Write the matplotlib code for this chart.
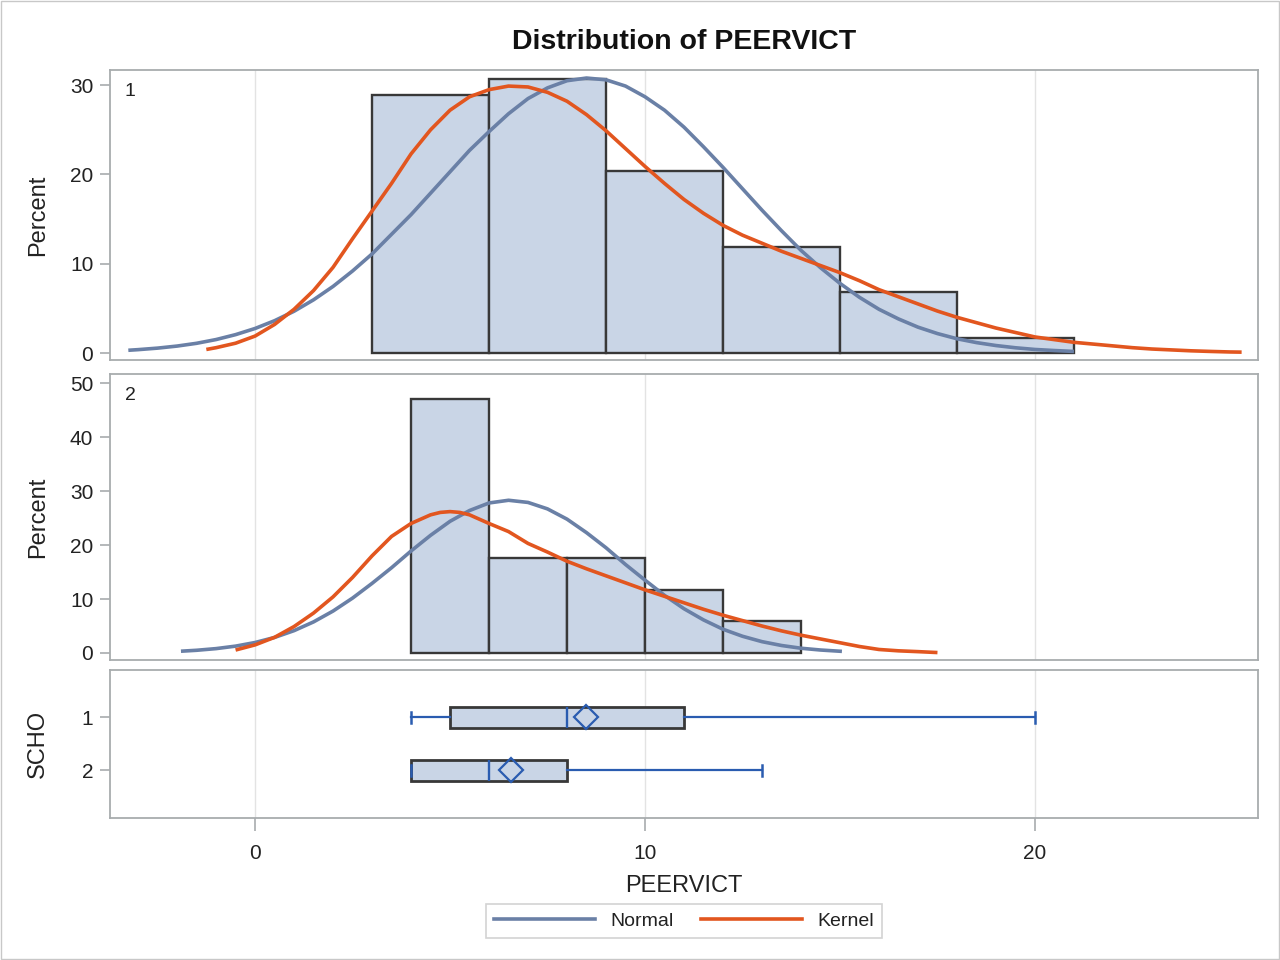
import numpy as np
import matplotlib
matplotlib.use('Agg')
import matplotlib.pyplot as plt
from matplotlib.patches import Rectangle
from matplotlib.lines import Line2D

plt.rcParams['font.family'] = ['Liberation Sans', 'DejaVu Sans']

# Histogramas (porcentaje por clase)
bins1 = [3, 6, 9, 12, 15, 18, 21]
pct1 = [28.9, 30.7, 20.4, 11.9, 6.8, 1.7]
bins2 = [4, 6, 8, 10, 12, 14]
pct2 = [47.0, 17.6, 17.6, 11.7, 5.9]

# Curva normal grupo 1
norm1_x = [-3.25, -3, -2.5, -2, -1.5, -1, -0.5, 0, 0.5, 1, 1.5, 2, 2.5, 3, 3.5, 4, 4.5,
           5, 5.5, 6, 6.5, 7, 7.5, 8, 8.5, 9, 9.5, 10, 10.5, 11, 11.5, 12, 12.5, 13,
           13.5, 14, 14.5, 15, 15.5, 16, 16.5, 17, 17.5, 18, 18.5, 19, 19.5, 20, 20.5, 21]
norm1_y = [0.31, 0.38, 0.55, 0.78, 1.09, 1.51, 2.06, 2.75, 3.62, 4.68, 5.96, 7.46, 9.19,
           11.1, 13.3, 15.5, 17.9, 20.3, 22.7, 24.8, 26.8, 28.5, 29.7, 30.5, 30.8, 30.6,
           29.9, 28.7, 27.2, 25.3, 23.1, 20.8, 18.4, 16.0, 13.7, 11.5, 9.56, 7.8, 6.24,
           4.9, 3.82, 2.9, 2.18, 1.6, 1.17, 0.84, 0.59, 0.40, 0.28, 0.18]
# Curva kernel grupo 1
kern1_x = [-1.25, -1, -0.5, 0, 0.5, 1, 1.5, 2, 2.5, 3, 3.5, 4, 4.5, 5, 5.5, 6, 6.5, 7,
           7.5, 8, 8.5, 9, 9.5, 10, 10.5, 11, 11.5, 12, 12.5, 13, 13.5, 14, 14.5, 15,
           15.5, 16, 16.5, 17, 17.5, 18, 18.5, 19, 19.5, 20, 20.5, 21, 21.5, 22, 22.5,
           23, 23.5, 24, 24.5, 25, 25.3]
kern1_y = [0.4, 0.6, 1.1, 1.9, 3.2, 4.9, 7.0, 9.6, 12.8, 15.9, 19.0, 22.3, 25.0, 27.2,
           28.7, 29.5, 29.9, 29.8, 29.2, 28.2, 26.7, 24.9, 22.9, 20.9, 19.0, 17.2, 15.65,
           14.3, 13.2, 12.3, 11.4, 10.6, 9.8, 9.0, 8.1, 7.1, 6.3, 5.5, 4.7, 4.0, 3.4, 2.8,
           2.3, 1.8, 1.5, 1.2, 1.0, 0.8, 0.6, 0.45, 0.35, 0.25, 0.18, 0.12, 0.1]

# Curva normal grupo 2
norm2_x = [-1.9, -1.5, -1, -0.5, 0, 0.5, 1, 1.5, 2, 2.5, 3, 3.5, 4, 4.5, 5, 5.5, 6, 6.5,
           7, 7.5, 8, 8.5, 9, 9.5, 10, 10.5, 11, 11.5, 12, 12.5, 13, 13.5, 14, 14.5, 15.05]
norm2_y = [0.33, 0.50, 0.81, 1.27, 1.94, 2.88, 4.14, 5.76, 7.77, 10.17, 12.9, 15.8, 18.9,
           21.8, 24.4, 26.4, 27.8, 28.3, 27.9, 26.7, 24.8, 22.3, 19.5, 16.4, 13.5, 10.68,
           8.2, 6.13, 4.4, 3.10, 2.1, 1.39, 0.88, 0.55, 0.30]
# Curva kernel grupo 2
kern2_x = [-0.5, 0, 0.5, 1, 1.5, 2, 2.5, 3, 3.5, 4, 4.5, 4.75, 5, 5.25, 5.5, 6, 6.5, 7,
           7.5, 8, 8.5, 9, 9.5, 10, 10.5, 11, 11.5, 12, 12.5, 13, 13.5, 14, 14.5, 15,
           15.5, 16, 16.5, 17, 17.5]
kern2_y = [0.55, 1.5, 2.9, 4.9, 7.4, 10.4, 14.0, 18.0, 21.6, 24.0, 25.6, 26.05, 26.2,
           26.05, 25.6, 24.0, 22.5, 20.3, 18.7, 17.0, 15.6, 14.3, 13.0, 11.7, 10.5, 9.3,
           8.1, 7.0, 6.0, 5.0, 4.1, 3.3, 2.6, 1.9, 1.2, 0.65, 0.4, 0.25, 0.08]

# Diagramas de caja por SCHO
grupos = ['1', '2']
minimo = [4, 4]
q1 = [5, 4]
mediana = [8, 6]
q3 = [11, 8]
maximo = [20, 13]
media = [8.49, 6.56]

# Colores
c_fill = '#C9D5E6'
c_edge = '#383838'
c_norm = '#6A80A6'
c_kern = '#E2561F'
c_box = '#2A5CB0'
c_axis = '#A8ACAE'
c_grid = '#E3E3E3'
c_text = '#222222'

fig = plt.figure(figsize=(12.8, 9.6), dpi=100)
fig.patches.append(Rectangle((0.001, 0.001), 0.998, 0.998, transform=fig.transFigure,
                             fill=False, edgecolor='#C8C8C8', linewidth=1))

W, H = 1280.0, 960.0
left, right = 110, 1258


def caja(top, bottom):
    return fig.add_axes([left / W, 1 - bottom / H, (right - left) / W, (bottom - top) / H])


ax1 = caja(70, 360)
ax2 = caja(374, 660)
ax3 = caja(670, 818)

xlim = (-3.72, 25.72)


def estilo(ax):
    ax.set_xlim(*xlim)
    for s in ax.spines.values():
        s.set_color(c_axis)
        s.set_linewidth(1.3)
    ax.tick_params(axis='both', colors=c_axis, labelcolor=c_text, labelsize=15,
                   length=7, width=1.2, pad=5)
    for v in [0, 10, 20]:
        ax.axvline(v, color=c_grid, linewidth=1, zorder=0)


for ax, edges, pct, nx, ny, kx, ky, lab, ylim, yt in [
        (ax1, bins1, pct1, norm1_x, norm1_y, kern1_x, kern1_y, '1', (-0.78, 31.7), [0, 10, 20, 30]),
        (ax2, bins2, pct2, norm2_x, norm2_y, kern2_x, kern2_y, '2', (-1.3, 51.7), [0, 10, 20, 30, 40, 50])]:
    estilo(ax)
    ax.bar(edges[:-1], pct, width=np.diff(edges), align='edge', color=c_fill,
           edgecolor=c_edge, linewidth=1.7, zorder=2)
    ax.plot(nx, ny, color=c_norm, linewidth=2.6, zorder=3, solid_capstyle='butt',
            solid_joinstyle='round')
    ax.plot(kx, ky, color=c_kern, linewidth=2.6, zorder=4, solid_capstyle='butt',
            solid_joinstyle='round')
    ax.set_ylim(*ylim)
    ax.set_yticks(yt)
    ax.set_xticks([0, 10, 20])
    ax.tick_params(axis='x', bottom=False, labelbottom=False)
    ax.set_ylabel('Percent', fontsize=17, color=c_text)
    ax.yaxis.set_label_coords(-0.053, 0.5)
    ax.text(0.013, 0.955, lab, transform=ax.transAxes, fontsize=14, color=c_text,
            va='top', ha='left')

ax1.set_title('Distribution of PEERVICT', fontsize=20.5, fontweight='bold', color='#111111',
              pad=15)

# Panel de cajas
estilo(ax3)
stats = []
for i in range(len(grupos)):
    stats.append({'whislo': minimo[i], 'q1': q1[i], 'med': mediana[i], 'q3': q3[i],
                  'whishi': maximo[i], 'mean': media[i], 'fliers': [], 'label': grupos[i]})
ax3.bxp(stats, positions=[1, 2], widths=0.4, orientation='horizontal', patch_artist=True,
        showmeans=True, capwidths=0.2,
        boxprops=dict(facecolor=c_fill, edgecolor=c_edge, linewidth=2.0),
        medianprops=dict(color=c_box, linewidth=1.7),
        whiskerprops=dict(color=c_box, linewidth=1.6),
        capprops=dict(color=c_box, linewidth=1.8),
        meanprops=dict(marker='D', markerfacecolor='none', markeredgecolor=c_box,
                       markersize=12, markeredgewidth=1.6),
        manage_ticks=False, zorder=3)
ax3.set_ylim(2.9, 0.11)
ax3.set_yticks([1, 2])
ax3.set_yticklabels(grupos)
ax3.set_xticks([0, 10, 20])
ax3.set_xlabel('PEERVICT', fontsize=17, color=c_text, labelpad=8)
ax3.set_ylabel('SCHO', fontsize=17, color=c_text)
ax3.yaxis.set_label_coords(-0.053, 0.5)
ax3.tick_params(axis='x', length=9, pad=10)

# Leyenda
handles = [Line2D([], [], color=c_norm, linewidth=2.6),
           Line2D([], [], color=c_kern, linewidth=2.6)]
leg = fig.legend(handles, ['Normal', 'Kernel'], loc='center', ncol=2,
                 bbox_to_anchor=(684 / W, 1 - 921 / H), fontsize=14, frameon=True,
                 fancybox=False, edgecolor='#C8C8C8', handlelength=5.2, columnspacing=1.4,
                 handletextpad=0.8, borderpad=0.4, borderaxespad=0)
leg.get_frame().set_linewidth(1.2)
for t in leg.get_texts():
    t.set_color(c_text)

fig.savefig('out.png', dpi=100)
